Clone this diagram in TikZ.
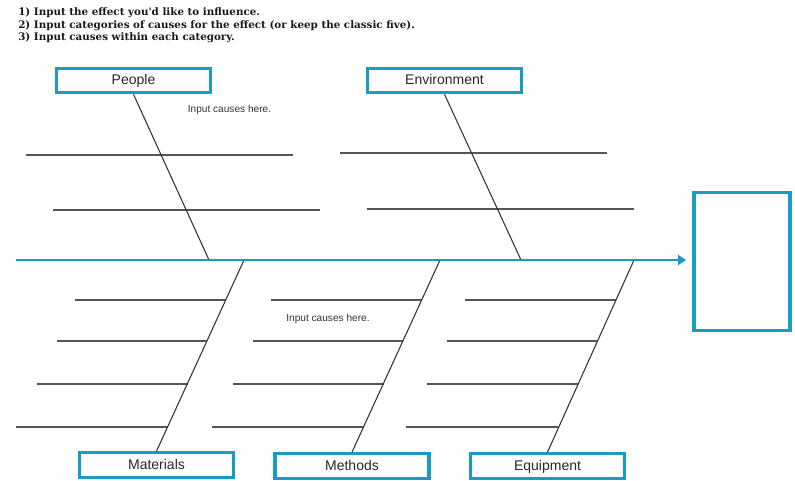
\documentclass[tikz,border=0pt]{standalone}
\usepackage{fontspec}
\setmainfont{Liberation Serif}
\setsansfont{Liberation Sans}
\newfontfamily\hdrfont{DejaVu Serif}
\usetikzlibrary{arrows.meta}
\definecolor{teal1}{RGB}{24,155,196}
\definecolor{bonegray}{RGB}{85,85,85}
\begin{document}
\begin{tikzpicture}[x=0.75pt,y=-0.75pt,
  catbox/.style={draw=teal1,line width=2.3pt,fill=white,minimum width=115.5pt,minimum height=18.5pt,inner sep=0pt,text height=0.72em,text depth=0.08em,font=\sffamily\fontsize{10.5}{12}\selectfont,text=black!85},
  effectbox/.style={draw=teal1,line width=2.3pt,minimum width=72pt,minimum height=104pt,inner sep=0pt},
  bone/.style={draw=black!80,line width=0.8pt},
  cause/.style={draw=bonegray,line width=1.1pt},
  spine/.style={draw=teal1,line width=2.2pt,-{Triangle[length=6pt,width=7.5pt]}},
  hint/.style={font=\sffamily\fontsize{7.6}{9}\selectfont,text=black!80,inner sep=0pt},
  instr/.style={font=\hdrfont\bfseries\fontsize{7.75}{10}\selectfont,anchor=base west,inner sep=0pt,text=black!90}
]
\useasboundingbox (0,0) rectangle (795,481);
% instructions
\node[instr] (i1) at (18,16) {1) Input the effect you'd like to influence.};
\node[instr] (i2) at (18,28.5) {2) Input categories of causes for the effect (or keep the classic five).};
\node[instr] (i3) at (18,40.5) {3) Input causes within each category.};
% horizontal cause lines (upper)
\foreach \y/\a/\b in {155/26/293, 210/53/320, 153/340/607, 209/367/634}
  \draw[cause] (\a,\y) -- (\b,\y);
% horizontal cause lines (lower)
\foreach \dx in {0,196,390}{
  \draw[cause] (75+\dx,300) -- (226+\dx,300);
  \draw[cause] (57+\dx,341) -- (207+\dx,341);
  \draw[cause] (37+\dx,384) -- (188+\dx,384);
  \draw[cause] (16+\dx,427) -- (168+\dx,427);
}
% spine
\coordinate (tail) at (16,260);
\coordinate (head) at (686,260);
\node[effectbox] (effect) at (742,261.5) {};
% category boxes
\node[catbox] (people) at (133.5,80.5) {People};
\node[catbox] (env) at (444.5,80.5) {Environment};
\node[catbox] (mat) at (156.5,465) {Materials};
\node[catbox] (meth) at (352,466) {Methods};
\node[catbox] (equip) at (547.5,466) {Equipment};
% junctions on spine
\coordinate (jp) at (209,260);
\coordinate (je) at (521,260);
\coordinate (jm) at (244,260);
\coordinate (jt) at (440,260);
\coordinate (jq) at (634,260);
\draw[bone] (people.south) -- (jp);
\draw[bone] (env.south) -- (je);
\draw[bone] (mat.north) -- (jm);
\draw[bone] (meth.north) -- (jt);
\draw[bone] (equip.north) -- (jq);
\draw[spine] (tail) -- (head);
% hints
\node[hint] (h1) at (229.5,110) {Input causes here.};
\node[hint] (h2) at (328,319) {Input causes here.};
\end{tikzpicture}
\end{document}
